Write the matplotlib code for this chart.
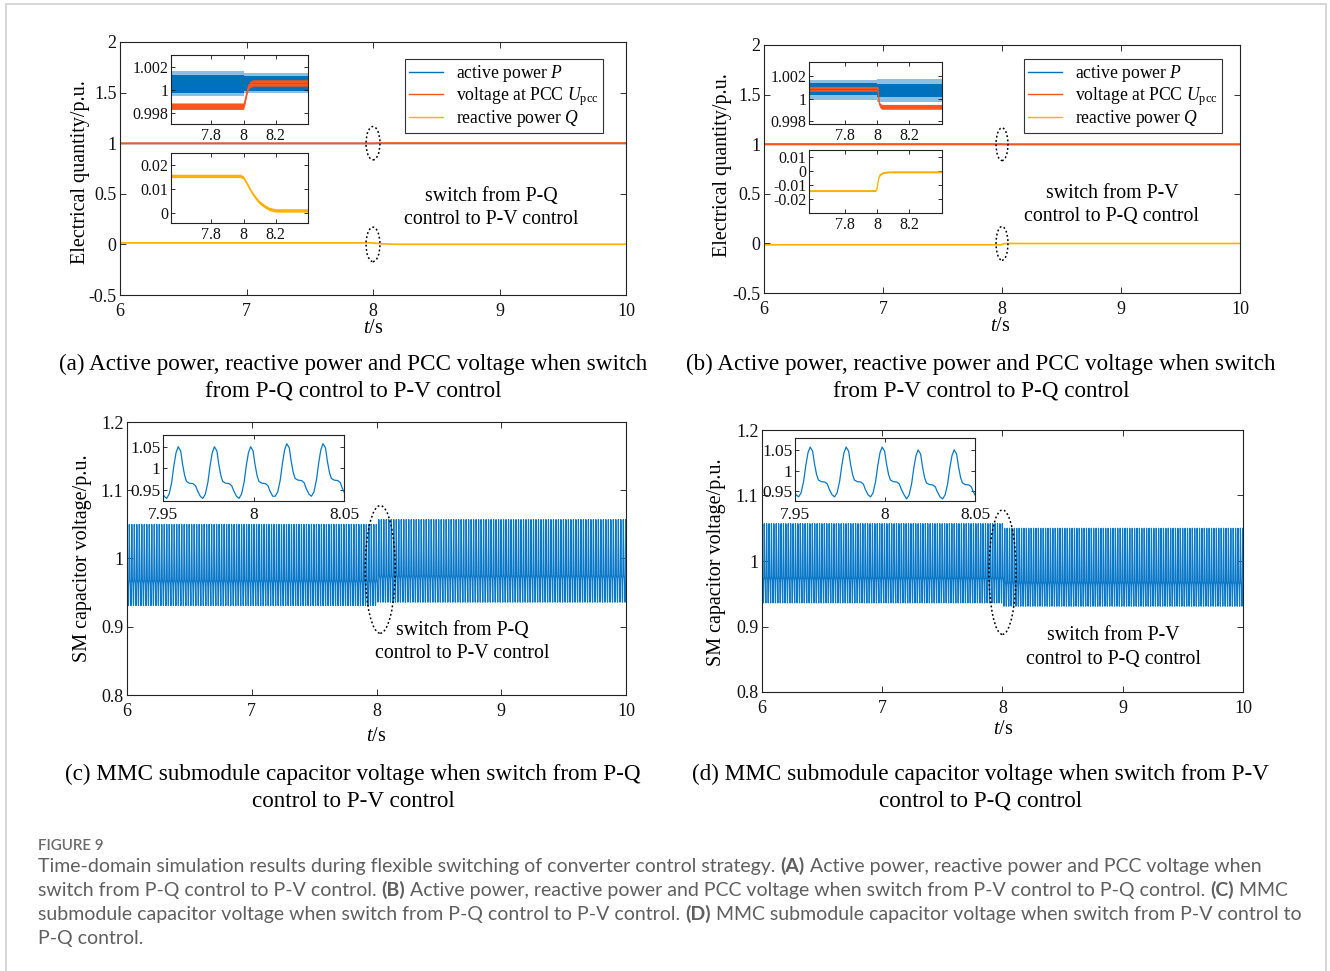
import numpy as np
import matplotlib
matplotlib.use('Agg')
import matplotlib.pyplot as plt
from matplotlib.patches import Ellipse, Rectangle
from matplotlib.lines import Line2D

plt.rcParams['font.family'] = ['Liberation Serif', 'DejaVu Serif']
plt.rcParams['mathtext.fontset'] = 'custom'
plt.rcParams['mathtext.rm'] = 'Liberation Serif'
plt.rcParams['mathtext.it'] = 'Liberation Serif:italic'
plt.rcParams['axes.unicode_minus'] = False

W, H = 1330, 971

# ---------------- data ----------------
# (a) switch from P-Q control to P-V control
a_p_t   = [6.0, 8.0, 8.0, 10.0]
a_p_lo  = [0.99972, 0.99972, 0.99990, 0.99990]
a_p_hi  = [1.00126, 1.00126, 1.00120, 1.00120]
a_p_lo2 = [0.99946, 0.99946, 0.99970, 0.99970]
a_p_hi2 = [1.00160, 1.00160, 1.00140, 1.00140]
a_u_t   = [6.0, 8.0, 8.01, 8.02, 8.03, 8.04, 8.06, 10.0]
a_u_mid = [0.99855, 0.99855, 0.99905, 0.99975, 1.00025, 1.00045, 1.00057, 1.00057]
a_u_half = 0.00028
a_q_t   = [6.0, 7.98, 8.0, 8.02, 8.04, 8.06, 8.08, 8.10, 8.13, 8.16, 8.20, 10.0]
a_q_mid = [0.0155, 0.0155, 0.0148, 0.0125, 0.0100, 0.0078, 0.0060, 0.0045, 0.0030, 0.0018, 0.0012, 0.0012]
a_q_half = 0.0007

# (b) switch from P-V control to P-Q control
b_p_t   = [6.0, 8.0, 8.0, 10.0]
b_p_lo  = [1.00030, 1.00030, 1.00014, 1.00014]
b_p_hi  = [1.00139, 1.00139, 1.00133, 1.00133]
b_p_lo2 = [0.99985, 0.99985, 0.99970, 0.99970]
b_p_hi2 = [1.00169, 1.00169, 1.00178, 1.00178]
b_u_t   = [6.0, 8.005, 8.01, 8.015, 8.02, 8.03, 10.0]
b_u_mid = [1.00088, 1.00088, 1.00000, 0.99950, 0.99935, 0.99925, 0.99925]
b_u_half = 0.00022
b_q_t   = [6.0, 7.99, 8.0, 8.005, 8.01, 8.02, 8.04, 8.07, 8.10, 10.0]
b_q_mid = [-0.0141, -0.0141, -0.0125, -0.0090, -0.0050, -0.0025, -0.0012, -0.0008, -0.0007, -0.0007]
b_q_half = 0.0006

# (c)/(d) SM capacitor voltage: one period
cap_period = 0.02
cap_first_trough = 5.992
cap_switch = 8.0
cap_phase = [0.0, 0.07, 0.14, 0.20, 0.26, 0.32, 0.39, 0.44, 0.50, 0.55, 0.63, 0.73, 0.80, 0.85, 0.93]
cap_low   = [0.931, 0.941, 0.968, 1.006, 1.036, 1.050, 1.040, 1.010, 0.983, 0.970, 0.966, 0.965, 0.960, 0.949, 0.936]
cap_high  = [0.936, 0.946, 0.974, 1.012, 1.043, 1.057, 1.047, 1.017, 0.990, 0.977, 0.973, 0.972, 0.967, 0.955, 0.941]
n_cycles = 202

main_xticks = [6, 7, 8, 9, 10]
pq_yticks = [-0.5, 0, 0.5, 1, 1.5, 2]
cap_yticks = [0.8, 0.9, 1, 1.1, 1.2]

C_P = '#0072BD'
C_U = '#F7561C'
C_Q = '#FFB000'
C_CAP = '#0A78C8'

fig = plt.figure(figsize=(13.3, 9.71), dpi=100)


def add_ax(l, t, r, b, z=1):
    return fig.add_axes([l / W, 1 - b / H, (r - l) / W, (b - t) / H], zorder=z)


def fmt(v):
    return f'{v:g}'


def style(ax, size, xpad=4, ypad=2.5, length=4):
    ax.tick_params(direction='in', top=True, right=True, length=length, width=0.6,
                   labelsize=size, colors='#111111')
    ax.tick_params(axis='x', pad=xpad)
    ax.tick_params(axis='y', pad=ypad)
    for s in ax.spines.values():
        s.set_linewidth(0.8)
        s.set_color('#222222')


def set_ticks(ax, xt, yt):
    ax.set_xticks(xt)
    ax.set_xticklabels([fmt(v) for v in xt])
    ax.set_yticks(yt)
    ax.set_yticklabels([fmt(v) for v in yt])


def band(ax, t, lo, hi, color, lo2=None, hi2=None, lw=1.0, label=None):
    t = np.asarray(t)
    lo = np.asarray(lo); hi = np.asarray(hi)
    if lo2 is not None:
        ax.fill_between(t, lo2, hi2, color=color, alpha=0.45, lw=0)
    ax.fill_between(t, lo, hi, color=color, lw=0)
    ln, = ax.plot(t, (lo + hi) / 2, color=color, lw=lw, label=label)
    return ln


def mid_band(ax, t, mid, half, color, lw=1.0, label=None):
    mid = np.asarray(mid)
    return band(ax, t, mid - half, mid + half, color, lw=lw, label=label)


def cap_series(first, second):
    ts, vs = [], []
    ph = np.asarray(cap_phase)
    for k in range(n_cycles):
        t0 = cap_first_trough + k * cap_period
        cyc = first if t0 < cap_switch else second
        ts.extend(t0 + ph * cap_period)
        vs.extend(cyc)
    return np.array(ts), np.array(vs)


def fp(x, y):
    return (x / W, 1 - y / H)


def arrow(head, start, rad):
    fig.add_artist(matplotlib.patches.FancyArrowPatch(
        fp(*start), fp(*head), transform=fig.transFigure,
        arrowstyle='-|>,head_length=0.6,head_width=0.22', mutation_scale=14,
        connectionstyle=f'arc3,rad={rad}', color='k', lw=0.9,
        linestyle=(0, (4, 3)), shrinkA=0, shrinkB=0))


def ellipse(ax, xy, w, h):
    ax.add_patch(Ellipse(xy, w, h, fill=False, ec='k', lw=1.1,
                         linestyle=(0, (1.2, 1.6)), zorder=5, clip_on=False))


def ftext(x, y, s, size, **kw):
    fig.text(x / W, 1 - y / H, s, fontsize=size, ha='center', va='center', **kw)


TICK = 13
INS = 11.5
ANN = 14.3
SUB = 16.7
LAB = 14.5
LEG = 12.7


def legend(ax, handles_src, x, y):
    return ax.legend(handles=[Line2D([], [], color=h.get_color(), lw=1) for h in handles_src],
                     labels=[h.get_label() for h in handles_src],
                     loc='upper left', bbox_to_anchor=fp(x, y), bbox_transform=fig.transFigure,
                     fontsize=LEG, frameon=True, fancybox=False, framealpha=1, edgecolor='#333333',
                     borderaxespad=0, borderpad=0.25, labelspacing=0.02, handlelength=1.9,
                     handletextpad=0.75)


# ================= (a) =================
ax = add_ax(120, 42, 626, 295)
lp = band(ax, a_p_t, a_p_lo, a_p_hi, C_P, lw=1.0, label='active power $P$')
lu = mid_band(ax, a_u_t, a_u_mid, a_u_half, C_U, lw=1.4, label='voltage at PCC $U_{\\rm pcc}$')
lq = mid_band(ax, a_q_t, a_q_mid, a_q_half, C_Q, lw=1.2, label='reactive power $Q$')
ax.set_xlim(6, 10); ax.set_ylim(-0.5, 2)
set_ticks(ax, main_xticks, pq_yticks)
style(ax, TICK, xpad=6)
leg = legend(ax, [lp, lu, lq], 405, 59)
leg.get_frame().set_linewidth(0.8)
ellipse(ax, (8.0, 1.0), 0.11, 0.33)
ellipse(ax, (8.0, 0.0), 0.11, 0.34)

ins = add_ax(171, 55, 308, 124, z=3)
band(ins, a_p_t, a_p_lo, a_p_hi, C_P, a_p_lo2, a_p_hi2, lw=0.6)
mid_band(ins, a_u_t, a_u_mid, a_u_half, C_U, lw=0.8)
ins.set_xlim(7.55, 8.4); ins.set_ylim(0.997, 1.003)
set_ticks(ins, [7.8, 8, 8.2], [0.998, 1, 1.002])
style(ins, INS, xpad=3, ypad=2, length=3)

ins = add_ax(171, 153, 308, 223, z=3)
mid_band(ins, a_q_t, a_q_mid, a_q_half, C_Q, lw=0.8)
ins.set_xlim(7.55, 8.4); ins.set_ylim(-0.004, 0.025)
set_ticks(ins, [7.8, 8, 8.2], [0, 0.01, 0.02])
style(ins, INS, xpad=3, ypad=2, length=3)

ftext(80, 172, 'Electrical quantity/p.u.', LAB, rotation=90)
ftext(373, 328, '$t$/s', LAB)
ftext(491, 197, 'switch from P-Q', ANN)
ftext(491, 220, 'control to P-V control', ANN)
arrow((318, 93), (373, 126), 0.4)
arrow((318, 193), (374, 225), 0.4)
ftext(353, 364, '(a) Active power, reactive power and PCC voltage when switch', SUB)
ftext(353, 391, 'from P-Q control to P-V control', SUB)

# ================= (b) =================
ax = add_ax(764, 45, 1240, 293)
lp = band(ax, b_p_t, b_p_lo, b_p_hi, C_P, lw=1.0, label='active power $P$')
lu = mid_band(ax, b_u_t, b_u_mid, b_u_half, C_U, lw=1.4, label='voltage at PCC $U_{\\rm pcc}$')
lq = mid_band(ax, b_q_t, b_q_mid, b_q_half, C_Q, lw=1.2, label='reactive power $Q$')
ax.set_xlim(6, 10); ax.set_ylim(-0.5, 2)
set_ticks(ax, main_xticks, pq_yticks)
style(ax, TICK, xpad=6)
leg = legend(ax, [lp, lu, lq], 1024, 59)
leg.get_frame().set_linewidth(0.8)
ellipse(ax, (8.0, 1.0), 0.1, 0.33)
ellipse(ax, (8.0, 0.0), 0.1, 0.34)

ins = add_ax(809, 62, 942, 124, z=3)
band(ins, b_p_t, b_p_lo, b_p_hi, C_P, b_p_lo2, b_p_hi2, lw=0.6)
mid_band(ins, b_u_t, b_u_mid, b_u_half, C_U, lw=0.8)
ins.set_xlim(7.577, 8.404); ins.set_ylim(0.9977, 1.0033)
set_ticks(ins, [7.8, 8, 8.2], [0.998, 1, 1.002])
style(ins, INS, xpad=3, ypad=2, length=3)

ins = add_ax(809, 150, 942, 213, z=3)
mid_band(ins, b_q_t, b_q_mid, b_q_half, C_Q, lw=0.8)
ins.set_xlim(7.577, 8.404); ins.set_ylim(-0.03, 0.015)
set_ticks(ins, [7.8, 8, 8.2], [-0.02, -0.01, 0, 0.01])
style(ins, INS, xpad=3, ypad=2, length=3)

ftext(722, 165, 'Electrical quantity/p.u.', LAB, rotation=90)
ftext(1000, 326, '$t$/s', LAB)
ftext(1112, 194, 'switch from P-V', ANN)
ftext(1112, 217, 'control to P-Q control', ANN)
arrow((951, 98), (1002, 126), 0.4)
arrow((951, 193), (1002, 223), 0.4)
ftext(981, 364, '(b) Active power, reactive power and PCC voltage when switch', SUB)
ftext(981, 391, 'from P-V control to P-Q control', SUB)

# ================= (c) =================
tc, vc = cap_series(cap_low, cap_high)
ax = add_ax(127, 422, 626, 695)
ax.plot(tc, vc, color=C_CAP, lw=0.85)
ax.set_xlim(6, 10); ax.set_ylim(0.8, 1.2)
set_ticks(ax, main_xticks, cap_yticks)
style(ax, TICK, xpad=6)
ellipse(ax, (8.03, 0.984), 0.24, 0.187)
ins = add_ax(163, 435, 344, 501, z=3)
ins.plot(tc, vc, color=C_CAP, lw=0.9)
ins.set_xlim(7.95, 8.05); ins.set_ylim(0.925, 1.077)
set_ticks(ins, [7.95, 8, 8.05], [0.95, 1, 1.05])
style(ins, TICK - 0.5, xpad=4, ypad=2, length=3)
ftext(82, 558, 'SM capacitor voltage/p.u.', LAB, rotation=90)
ftext(376, 736, '$t$/s', LAB)
ftext(462, 630, 'switch from P-Q', ANN)
ftext(462, 654, 'control to P-V control', ANN)
arrow((347, 477), (380, 506), 0.15)
ftext(353, 774, '(c) MMC submodule capacitor voltage when switch from P-Q', SUB)
ftext(353, 801, 'control to P-V control', SUB)

# ================= (d) =================
td, vd = cap_series(cap_high, cap_low)
ax = add_ax(762, 430, 1243, 692)
ax.plot(td, vd, color=C_CAP, lw=0.85)
ax.set_xlim(6, 10); ax.set_ylim(0.8, 1.2)
set_ticks(ax, main_xticks, cap_yticks)
style(ax, TICK, xpad=6)
ellipse(ax, (8.0, 0.983), 0.225, 0.19)
ins = add_ax(795, 438, 975, 501, z=3)
ins.plot(td, vd, color=C_CAP, lw=0.9)
ins.set_xlim(7.95, 8.05); ins.set_ylim(0.926, 1.079)
set_ticks(ins, [7.95, 8, 8.05], [0.95, 1, 1.05])
style(ins, TICK - 0.5, xpad=4, ypad=2, length=3)
ftext(717, 562, 'SM capacitor voltage/p.u.', LAB, rotation=90)
ftext(1003, 729, '$t$/s', LAB)
ftext(1113, 636, 'switch from P-V', ANN)
ftext(1113, 659, 'control to P-Q control', ANN)
arrow((977, 486), (1001, 510), 0.1)
ftext(981, 774, '(d) MMC submodule capacitor voltage when switch from P-V', SUB)
ftext(981, 801, 'control to P-Q control', SUB)

# ================= caption =================
fig.add_artist(Rectangle(fp(6, 990), (1326 - 6) / W, (990 - 4) / H, transform=fig.transFigure,
                         fill=False, ec='#d4d4d4', lw=1.3))
CAP_FONT = ['Lato', 'DejaVu Sans']
CAP_COLOR = '#5f5f5f'
lines = [
    [("Time-domain simulation results during flexible switching of converter control strategy. ", False),
     ("(A)", True), (" Active power, reactive power and PCC voltage when", False)],
    [("switch from P-Q control to P-V control. ", False), ("(B)", True),
     (" Active power, reactive power and PCC voltage when switch from P-V control to P-Q control. ", False),
     ("(C)", True), (" MMC", False)],
    [("submodule capacitor voltage when switch from P-Q control to P-V control. ", False), ("(D)", True),
     (" MMC submodule capacitor voltage when switch from P-V control to", False)],
    [("P-Q control.", False)],
]
line_targets = [1217.0, 1259.0, 1259.0]
renderer = fig.canvas.get_renderer()


def seg_width(txt, bold, size):
    t = fig.text(0, 0, txt, fontsize=size, family=CAP_FONT, weight='bold' if bold else 'normal')
    w = t.get_window_extent(renderer).width
    t.remove()
    return w


base = 12.0
cap_size = min(base * tw / sum(seg_width(s, b, base) for s, b in lines[i])
               for i, tw in enumerate(line_targets))
for i, segs in enumerate(lines):
    cur = 38.0
    y = 866 + 24 * i
    for s, b in segs:
        t = fig.text(cur / W, 1 - y / H, s, fontsize=cap_size, family=CAP_FONT,
                     weight='bold' if b else 'normal', color=CAP_COLOR, va='center', ha='left')
        cur += t.get_window_extent(renderer).width
fig.text(38 / W, 1 - 846 / H, 'FIGURE 9', fontsize=cap_size * 0.78, family=CAP_FONT,
         weight='semibold', color='#6a6a6a', va='center', ha='left')

fig.savefig('out.png', dpi=100)
